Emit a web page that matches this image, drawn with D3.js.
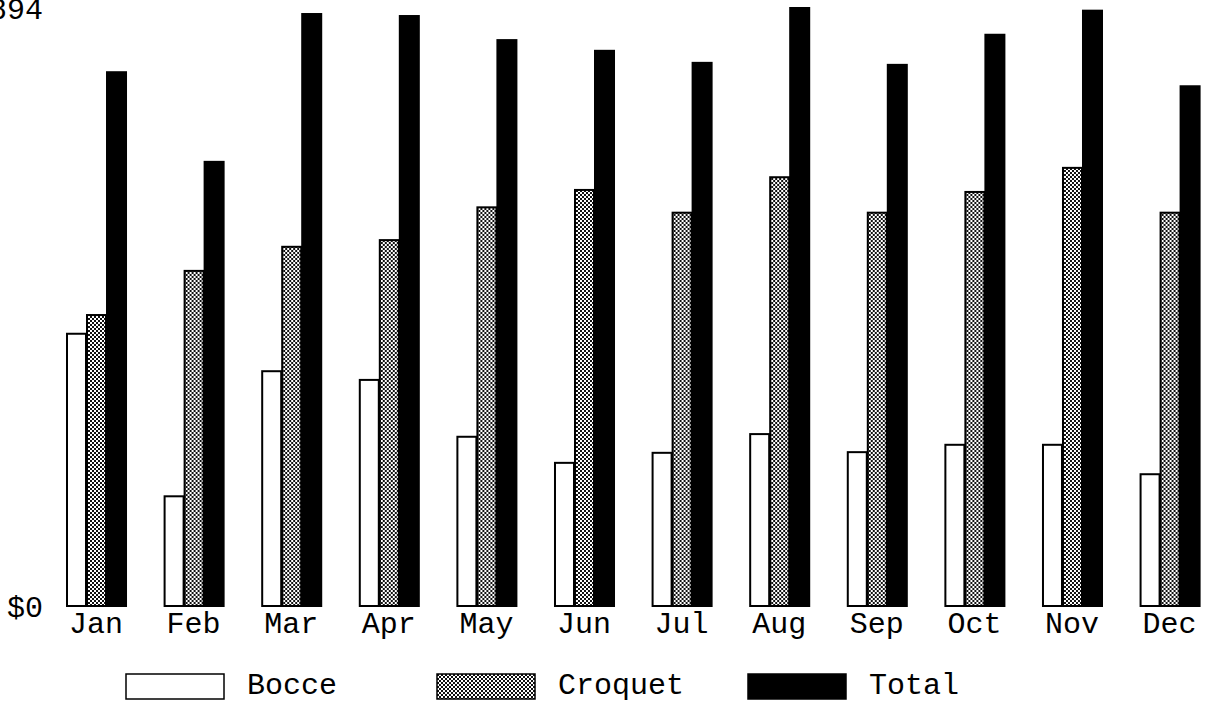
<!DOCTYPE html>
<html>
<head>
<meta charset="utf-8">
<script src="https://cdn.jsdelivr.net/npm/d3@7"></script>
<style>
  html, body { margin: 0; padding: 0; background: #fff; }
  svg { display: block; }
  text { font-family: "Liberation Mono", "Courier New", monospace; fill: #000; }
</style>
</head>
<body>
<svg id="chart" width="1210" height="704"></svg>
<script>
// Monthly revenue by game
const months = ["Jan", "Feb", "Mar", "Apr", "May", "Jun", "Jul", "Aug", "Sep", "Oct", "Nov", "Dec"];
const seriesNames = ["Bocce", "Croquet", "Total"];
const bocce   = [407, 164, 351, 338, 253, 214, 229, 257, 230, 241, 241, 197];
const croquet = [435, 501, 537, 547, 596, 622, 588, 641, 588, 619, 655, 588];
const total   = [798, 664, 885, 882, 846, 830, 812, 894, 809, 854, 890, 777];
const yTickValues = [0, 894];

const svg = d3.select("#chart");

// Fills: plain white, checker stipple, solid black
const defs = svg.append("defs");
const pat = defs.append("pattern")
  .attr("id", "checker")
  .attr("patternUnits", "userSpaceOnUse")
  .attr("width", 4).attr("height", 4);
pat.append("rect").attr("width", 4).attr("height", 4).attr("fill", "#fff");
pat.append("rect").attr("x", 0).attr("y", 0).attr("width", 2).attr("height", 2).attr("fill", "#111");
pat.append("rect").attr("x", 2).attr("y", 2).attr("width", 2).attr("height", 2).attr("fill", "#111");

const fills = { Bocce: "#fff", Croquet: "url(#checker)", Total: "#000" };

const x0 = d3.scaleBand().domain(months).range([66, 1199.6])
  .paddingInner(0.385).paddingOuter(0).align(0);
const x1 = d3.scaleBand().domain(seriesNames).range([0, x0.bandwidth()]).padding(0);
const y = d3.scaleLinear().domain([0, 894]).range([606, 8]);

const rows = months.map((m, i) => ({
  month: m,
  values: [
    { key: "Bocce", value: bocce[i] },
    { key: "Croquet", value: croquet[i] },
    { key: "Total", value: total[i] }
  ]
}));

const groups = svg.append("g").selectAll("g")
  .data(rows).join("g")
  .attr("transform", d => `translate(${x0(d.month)},0)`);

groups.selectAll("rect")
  .data(d => d.values).join("rect")
  .attr("x", d => x1(d.key) + 1)
  .attr("y", d => y(d.value))
  .attr("width", x1.bandwidth() - 1)
  .attr("height", d => y(0) - y(d.value))
  .attr("fill", d => fills[d.key])
  .attr("stroke", "#000")
  .attr("stroke-width", 2);

// Month labels
const xAxis = d3.axisBottom(x0).tickSize(0).tickPadding(0);
const gx = svg.append("g").attr("transform", "translate(0,610)").call(xAxis);
gx.select(".domain").remove();
gx.selectAll("text")
  .attr("dy", "0.75em")
  .style("font-size", "30px")
  .style("font-family", "'Liberation Mono', 'Courier New', monospace");

// Value labels
const yAxis = d3.axisLeft(y).tickValues(yTickValues).tickSize(0).tickPadding(0)
  .tickFormat(d => "$" + d);
const gy = svg.append("g").attr("transform", "translate(43,0)").call(yAxis);
gy.select(".domain").remove();
gy.selectAll("text")
  .attr("dy", "0.35em")
  .style("font-size", "30px")
  .style("font-family", "'Liberation Mono', 'Courier New', monospace");

// Legend
const legendX = d3.scalePoint().domain(seriesNames).range([126, 748]);
const legend = svg.append("g").selectAll("g")
  .data(seriesNames).join("g")
  .attr("transform", d => `translate(${legendX(d)},674)`);
legend.append("rect")
  .attr("width", 98).attr("height", 25)
  .attr("fill", d => fills[d])
  .attr("stroke", "#000").attr("stroke-width", 1.5);
legend.append("text")
  .attr("x", 121).attr("y", 20)
  .style("font-size", "30px")
  .text(d => d);
</script>
</body>
</html>
